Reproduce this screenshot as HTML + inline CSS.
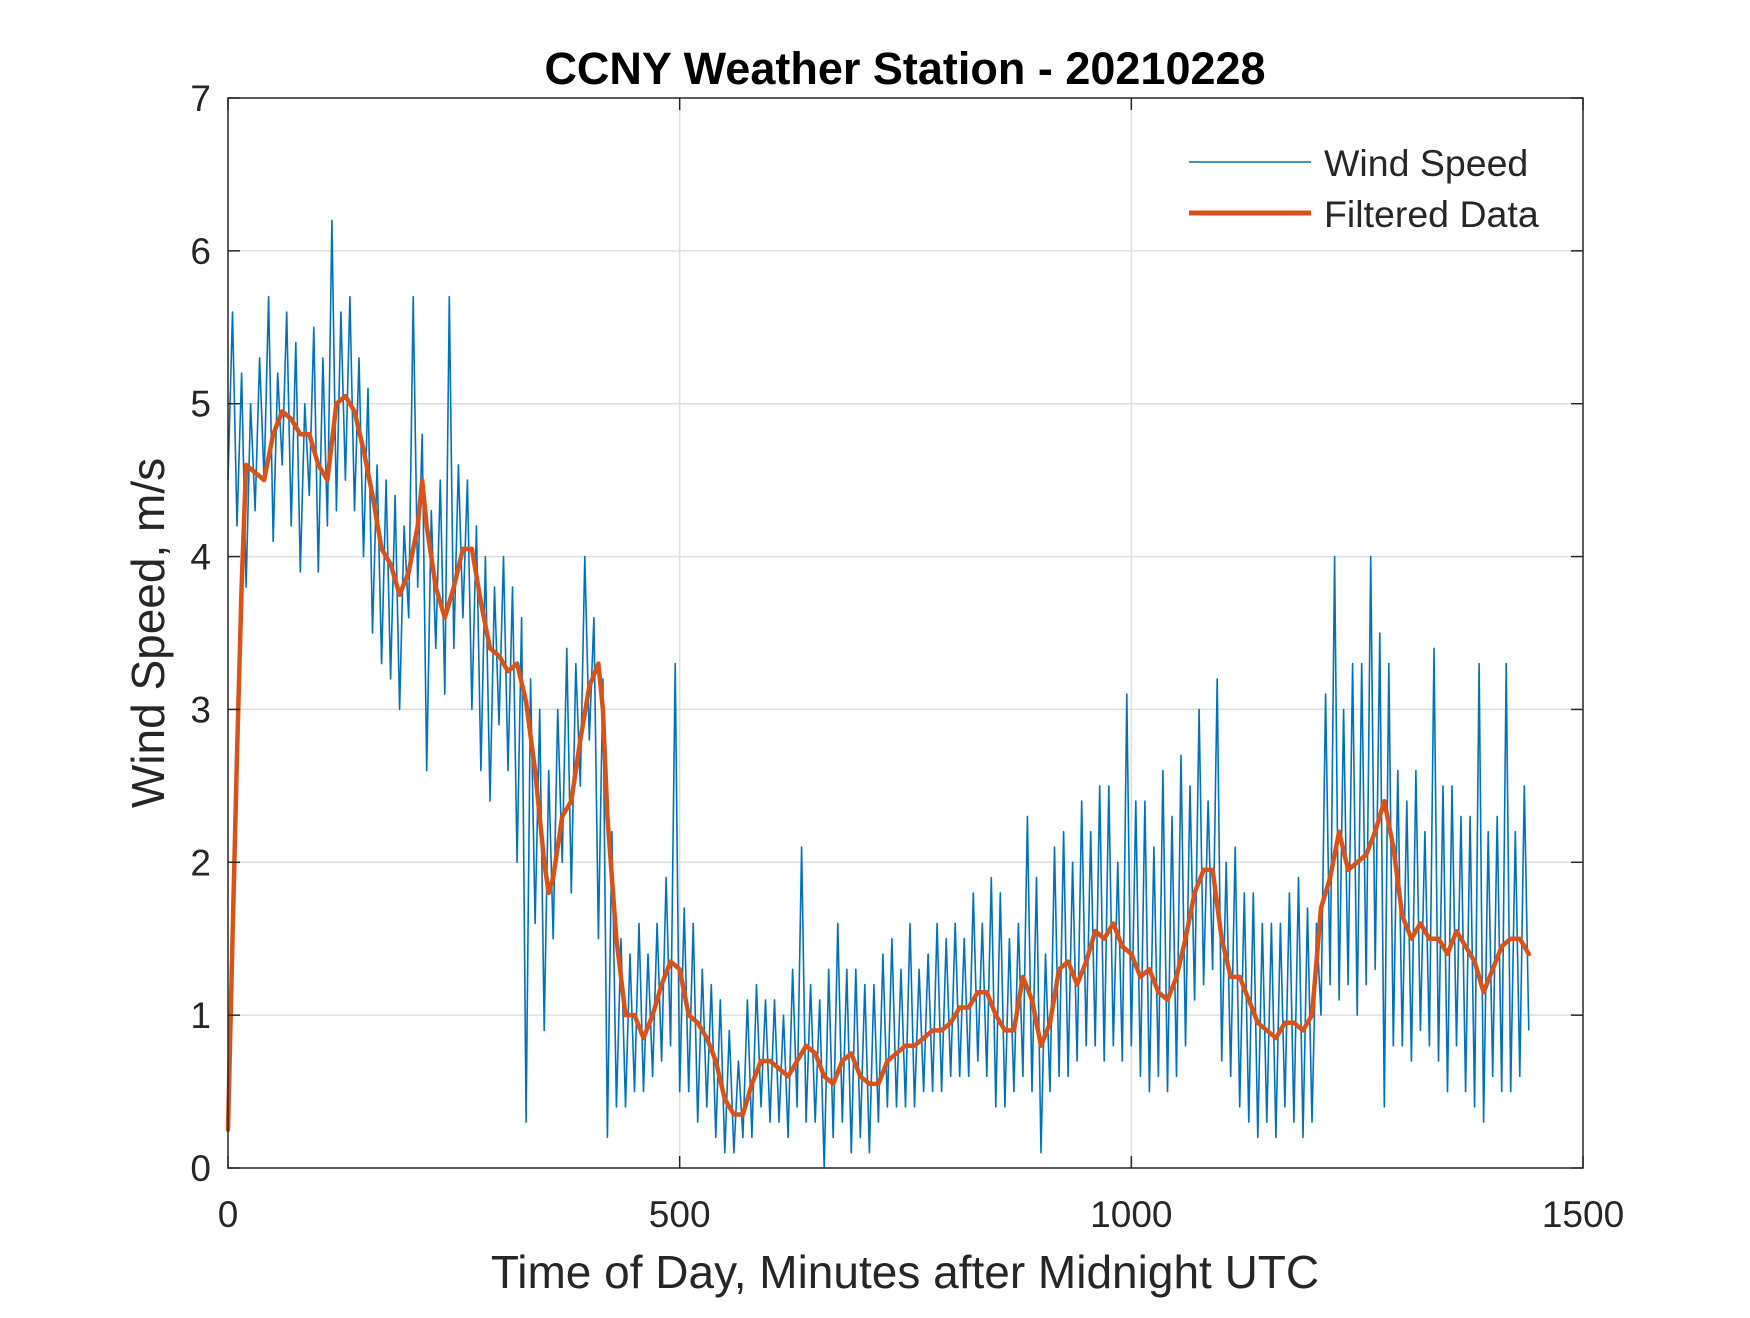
<!DOCTYPE html>
<html><head><meta charset="utf-8"><style>
body{margin:0;background:#fff}
svg text{font-family:"Liberation Sans",Arial,sans-serif;fill:#262626}
</style></head><body>
<svg id="chart" width="1750" height="1313" xmlns="http://www.w3.org/2000/svg">
<rect width="1750" height="1313" fill="#fff"/>
<g id="grid"></g>
<g id="series"></g>
<rect x="228" y="98" width="1355" height="1070" fill="none" stroke="#262626" stroke-width="1.5"/>
<g id="ticks"></g>
<text x="905" y="84" text-anchor="middle" font-size="45" font-weight="bold" style="fill:#000">CCNY Weather Station - 20210228</text>
<text x="905" y="1288" text-anchor="middle" font-size="46">Time of Day, Minutes after Midnight UTC</text>
<text transform="translate(164,633) rotate(-90)" text-anchor="middle" font-size="46">Wind Speed, m/s</text>
<g>
<line x1="1189" y1="162" x2="1311" y2="162" stroke="#0072BD" stroke-width="1.5"/>
<text x="1324" y="176" font-size="37.5">Wind Speed</text>
<line x1="1189" y1="213" x2="1311" y2="213" stroke="#D95319" stroke-width="5"/>
<text x="1324" y="227" font-size="37.5">Filtered Data</text>
</g>
</svg>
<script>
const xTicks=[0,500,1000,1500];
const yTicks=[0,1,2,3,4,5,6,7];
const rawStep=5;
const rawValues=[
4.5,5.6,4.2,5.2,3.8,5.0,4.3,5.3,4.5,5.7,
4.1,5.2,4.6,5.6,4.2,5.4,3.9,5.0,4.4,5.5,
3.9,5.3,4.2,6.2,4.3,5.6,4.5,5.7,4.3,5.3,
4.0,5.1,3.5,4.6,3.3,4.5,3.2,4.4,3.0,4.2,
3.6,5.7,3.8,4.8,2.6,4.3,3.4,4.5,3.1,5.7,
3.4,4.6,3.6,4.5,3.0,4.2,2.6,4.0,2.4,3.8,
2.9,4.0,2.6,3.8,2.0,3.6,0.3,3.2,1.6,3.0,
0.9,2.6,1.5,3.0,2.0,3.4,1.8,3.3,2.5,4.0,
2.8,3.6,1.5,3.2,0.2,2.2,0.4,1.5,0.4,1.4,
0.5,1.6,0.5,1.4,0.6,1.6,0.7,1.9,0.8,3.3,
0.5,1.7,0.5,1.6,0.3,1.3,0.4,1.2,0.2,1.1,
0.1,0.9,0.1,0.7,0.2,1.1,0.2,1.2,0.4,1.1,
0.3,1.1,0.3,1.0,0.2,1.3,0.4,2.1,0.3,1.2,
0.3,1.1,0.0,1.3,0.2,1.6,0.3,1.3,0.1,1.3,
0.2,1.2,0.1,1.2,0.3,1.4,0.4,1.5,0.4,1.3,
0.4,1.6,0.4,1.3,0.5,1.4,0.5,1.6,0.5,1.5,
0.6,1.6,0.6,1.5,0.6,1.8,0.7,1.6,0.6,1.9,
0.4,1.8,0.4,1.5,0.5,1.6,0.6,2.3,0.5,1.9,
0.1,1.4,0.5,2.1,0.6,2.2,0.6,2.0,0.7,2.4,
0.8,2.2,0.8,2.5,0.7,2.5,0.8,2.0,0.7,3.1,
0.8,2.4,0.6,2.4,0.5,2.1,0.6,2.6,0.5,2.3,
0.6,2.7,0.8,2.5,1.1,3.0,1.2,2.4,1.3,3.2,
0.7,2.0,0.6,2.1,0.4,1.8,0.3,1.8,0.2,1.6,
0.3,1.6,0.2,1.6,0.4,1.8,0.3,1.9,0.2,1.7,
0.3,1.6,1.0,3.1,1.2,4.0,1.1,3.0,1.2,3.3,
1.0,3.3,1.2,4.0,1.3,3.5,0.4,3.3,0.8,2.6,
0.8,2.4,0.7,2.6,0.9,2.2,0.8,3.4,0.7,2.5,
0.5,2.5,0.8,2.3,0.5,2.3,0.4,3.3,0.3,2.2,
0.6,2.3,0.5,3.3,0.5,2.2,0.6,2.5,0.9];
const filtTimes=[0,5,10,15,20,30,40,50,60,70,80,90,100,110,120,130,140,150,160,170,180,190,200,210,215,220,230,240,250,260,270,280,290,300,310,320,330,340,350,355,360,370,380,390,400,410,415,420,430,440,450,460,470,480,490,500,510,520,530,540,550,560,570,580,590,600,610,620,630,640,650,660,670,680,690,700,710,720,730,740,750,760,770,780,790,800,810,820,830,840,850,860,870,880,890,900,910,920,930,940,950,960,970,980,990,1000,1010,1020,1030,1040,1050,1060,1070,1080,1090,1100,1110,1120,1130,1140,1150,1160,1170,1180,1190,1200,1210,1220,1230,1240,1250,1260,1270,1280,1290,1300,1310,1320,1330,1340,1350,1360,1370,1380,1390,1400,1410,1420,1430,1440];
const filtValues=[0.25,1.5,2.7,3.8,4.6,4.55,4.5,4.8,4.95,4.9,4.8,4.8,4.6,4.5,5.0,5.05,4.95,4.7,4.4,4.05,3.95,3.75,3.9,4.2,4.5,4.2,3.8,3.6,3.8,4.05,4.05,3.7,3.4,3.35,3.25,3.3,3.05,2.6,2.0,1.8,1.9,2.3,2.4,2.8,3.15,3.3,3.0,2.3,1.5,1.0,1.0,0.85,1.0,1.2,1.35,1.3,1.0,0.95,0.85,0.7,0.45,0.35,0.35,0.55,0.7,0.7,0.65,0.6,0.7,0.8,0.75,0.6,0.55,0.7,0.75,0.6,0.55,0.55,0.7,0.75,0.8,0.8,0.85,0.9,0.9,0.95,1.05,1.05,1.15,1.15,1.0,0.9,0.9,1.25,1.1,0.8,0.95,1.3,1.35,1.2,1.35,1.55,1.5,1.6,1.45,1.4,1.25,1.3,1.15,1.1,1.25,1.5,1.8,1.95,1.95,1.5,1.25,1.25,1.1,0.95,0.9,0.85,0.95,0.95,0.9,1.0,1.7,1.9,2.2,1.95,2.0,2.05,2.2,2.4,2.1,1.65,1.5,1.6,1.5,1.5,1.4,1.55,1.45,1.35,1.15,1.3,1.45,1.5,1.5,1.4];

const X0=228,X1=1583,Y0=1168,Y1=98;
const xs=v=>X0+(v-0)/(1500-0)*(X1-X0);
const ys=v=>Y0-(v-0)/(7-0)*(Y0-Y1);
const NS='http://www.w3.org/2000/svg';
function mk(tag,attrs,parent){const e=document.createElementNS(NS,tag);for(const k in attrs)e.setAttribute(k,attrs[k]);parent.appendChild(e);return e;}
const grid=document.getElementById('grid'),ticks=document.getElementById('ticks'),series=document.getElementById('series');
xTicks.forEach(t=>{
  const x=xs(t);
  if(t>0&&t<1500){const g=mk('line',{x1:x,y1:Y1,x2:x,y2:Y0,stroke:'#dfdfdf','stroke-width':1.5},grid);
  
  }
  const a=mk('line',{x1:x,y1:Y0,x2:x,y2:Y0-12,stroke:'#262626','stroke-width':1.5},ticks);
  
  
  const b=mk('line',{x1:x,y1:Y1,x2:x,y2:Y1+12,stroke:'#262626','stroke-width':1.5},ticks);
  
  
  const l=mk('text',{x:x,y:1227,'text-anchor':'middle','font-size':37},ticks);l.textContent=t;
  
  
});
yTicks.forEach(t=>{
  const y=ys(t);
  if(t>0&&t<7){const g=mk('line',{x1:X0,y1:y,x2:X1,y2:y,stroke:'#dfdfdf','stroke-width':1.5},grid);
  
  }
  const a=mk('line',{x1:X0,y1:y,x2:X0+12,y2:y,stroke:'#262626','stroke-width':1.5},ticks);
  
  
  const b=mk('line',{x1:X1,y1:y,x2:X1-12,y2:y,stroke:'#262626','stroke-width':1.5},ticks);
  
  
  const l=mk('text',{x:211,y:y+13,'text-anchor':'end','font-size':37},ticks);l.textContent=t;
  
  
});
const rawPts=rawValues.map((v,i)=>xs(i*rawStep).toFixed(1)+','+ys(v).toFixed(1)).join(' ');
const raw=mk('polyline',{points:rawPts,fill:'none',stroke:'#0072BD','stroke-width':1.6,'stroke-linejoin':'round'},series);


const fPts=filtValues.map((v,i)=>xs(filtTimes[i]).toFixed(1)+','+ys(v).toFixed(1)).join(' ');
const filt=mk('polyline',{points:fPts,fill:'none',stroke:'#D95319','stroke-width':4.5,'stroke-linejoin':'round','stroke-linecap':'round'},series);


</script>
</body></html>
